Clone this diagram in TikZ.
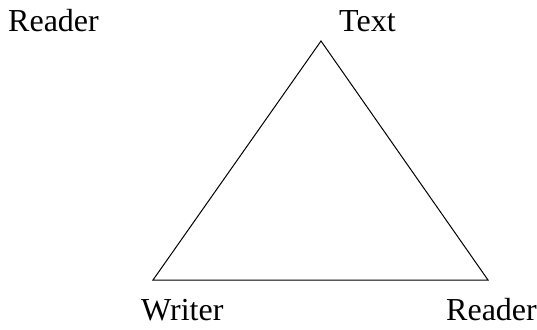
\documentclass[tikz,border=0pt]{standalone}
\usepackage{fontspec}
\setmainfont{Liberation Serif}

\begin{document}
\begin{tikzpicture}[x=1pt, y=-1pt,
    lbl/.style={anchor=base west, inner sep=0pt, font=\fontsize{32}{32}\selectfont}]
  \useasboundingbox (0,0) rectangle (537,329);
  % Corners of the triangle
  \coordinate (text) at (321,41);
  \coordinate (writer) at (153,280);
  \coordinate (reader) at (488,280);
  \draw[line width=1pt] (text) -- (writer) -- (reader) -- cycle;
  % Labels
  \node[lbl] (readerA) at (8,31) {Reader};
  \node[lbl] (textL) at (339,31) {Text};
  \node[lbl] (writerL) at (141,320) {Writer};
  \node[lbl] (readerB) at (446,320) {Reader};
\end{tikzpicture}
\end{document}
